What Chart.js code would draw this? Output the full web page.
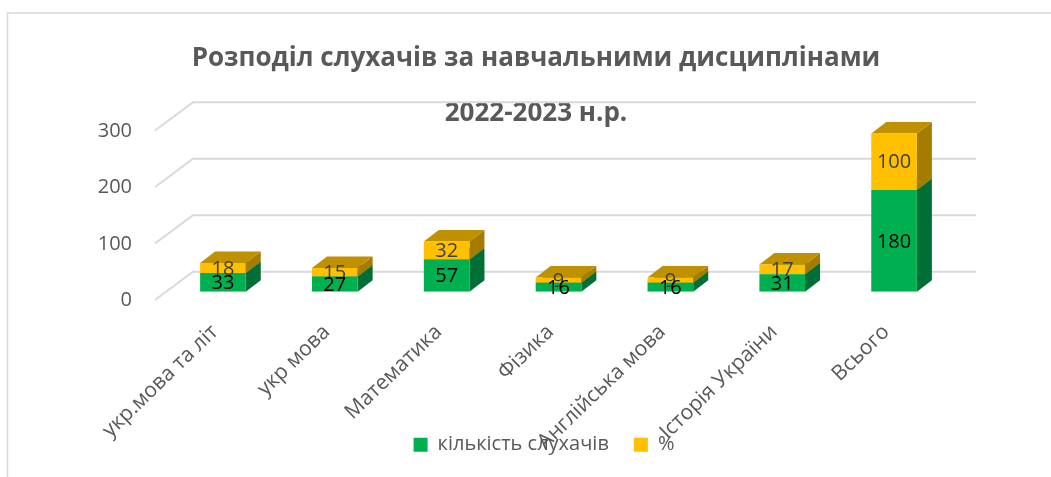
<!DOCTYPE html>
<html>
<head>
<meta charset="utf-8">
<style>
  html, body { margin: 0; padding: 0; background: #fff; }
  #wrap { width: 1051px; height: 477px; }
</style>
<script src="https://cdn.jsdelivr.net/npm/chart.js@4"></script>
</head>
<body>
<div id="wrap"><canvas id="myChart" width="1051" height="477"></canvas></div>
<script>
// data
var categories = ["укр.мова та літ", "укр мова", "Математика", "Фізика", "Англійська мова", "Історія України", "Всього"];
var listeners = [33, 27, 57, 16, 16, 31, 180];
var percents = [18, 15, 32, 9, 9, 17, 100];
var titleLines = ["Розподіл слухачів за навчальними дисциплінами", "2022-2023 н.р."];
var yTicks = [0, 100, 200, 300];

var fontName = "'Open Sans', sans-serif";

// 3d look of the excel chart: walls, bar sides and tops
var depth3d = {
  id: "depth3d",
  afterLayout: function(chart) {
    // tick labels get clipped to their scale box, and these ones overflow it on purpose
    chart.scales.y.left = 0;
    chart.scales.x.bottom = chart.height;
    chart.legend.left += 8;
    chart.legend.right += 8;
  },
  beforeDraw: function(chart) {
    var c = chart.ctx;
    c.save();
    c.strokeStyle = "#D9D9D9";
    c.lineWidth = 1.5;
    c.beginPath();
    c.moveTo(1051, 13);
    c.lineTo(7.5, 13);
    c.lineTo(7.5, 477);
    c.stroke();
    c.restore();
  },
  beforeDatasetsDraw: function(chart) {
    var c = chart.ctx;
    var x = chart.scales.x;
    var y = chart.scales.y;
    c.save();
    c.strokeStyle = "#D9D9D9";
    c.lineWidth = 2;
    yTicks.forEach(function(t) {
      var py = y.getPixelForValue(t);
      c.beginPath();
      c.moveTo(x.left - 12, py + 8.3);
      c.lineTo(x.left + 26, py - 20);
      c.lineTo(x.right + 26, py - 20);
      c.stroke();
    });

    var dx = 15, dy = -11.5;
    var sides = ["#006F37", "#A67C00"];
    var tops = ["#00843D", "#BF9000"];
    chart.data.datasets.forEach(function(ds, d) {
      chart.getDatasetMeta(d).data.forEach(function(bar) {
        var l = bar.x - bar.width / 2;
        var r = bar.x + bar.width / 2;
        c.fillStyle = sides[d];
        c.beginPath();
        c.moveTo(r, bar.base);
        c.lineTo(r + dx, bar.base + dy);
        c.lineTo(r + dx, bar.y + dy);
        c.lineTo(r, bar.y);
        c.closePath();
        c.fill();
        c.fillStyle = tops[d];
        c.beginPath();
        c.moveTo(l, bar.y);
        c.lineTo(l + dx, bar.y + dy);
        c.lineTo(r + dx, bar.y + dy);
        c.lineTo(r, bar.y);
        c.closePath();
        c.fill();
      });
    });
    c.restore();
  },
  afterDatasetsDraw: function(chart) {
    var c = chart.ctx;
    var colors = ["#000000", "#404040"];
    c.save();
    c.font = "20px " + fontName;
    c.textAlign = "center";
    c.textBaseline = "middle";
    // yellow labels first, the black ones sit over them
    for (var d = chart.data.datasets.length - 1; d >= 0; d--) {
      var values = chart.data.datasets[d].data;
      c.fillStyle = colors[d];
      chart.getDatasetMeta(d).data.forEach(function(bar, i) {
        c.fillText(values[i], bar.x, (bar.y + bar.base) / 2 + 1);
      });
    }
    c.restore();
  }
};

var myChart = new Chart(document.getElementById("myChart").getContext("2d"), {
  type: "bar",
  plugins: [depth3d],
  data: {
    labels: categories,
    datasets: [
      { label: "кількість слухачів", data: listeners, backgroundColor: "#00B050" },
      { label: "%", data: percents, backgroundColor: "#FFC000" }
    ]
  },
  options: {
    responsive: false,
    animation: false,
    layout: { padding: { left: 122, right: 101, top: 0, bottom: 12.3 } },
    datasets: { bar: { categoryPercentage: 1, barPercentage: 0.408 } },
    plugins: {
      tooltip: { enabled: false },
      title: {
        display: true,
        text: titleLines,
        color: "#595959",
        font: { family: fontName, size: 26, weight: "bold", lineHeight: 2.12 },
        padding: { top: 31, bottom: -19 }
      },
      legend: {
        position: "bottom",
        labels: { color: "#595959", font: { family: fontName, size: 20 }, boxWidth: 14, boxHeight: 14, padding: 25 }
      }
    },
    scales: {
      x: {
        stacked: true,
        grid: { display: false },
        border: { display: false },
        afterFit: function(scale) { scale.height = 118; },
        ticks: { color: "#595959", font: { family: fontName, size: 21 }, minRotation: 44, maxRotation: 44, padding: 20, labelOffset: -8 }
      },
      y: {
        stacked: true,
        min: 0,
        max: 300,
        grid: { display: false },
        border: { display: false },
        afterFit: function(scale) { scale.width = 45; },
        ticks: { color: "#595959", font: { family: fontName, size: 20 }, stepSize: 100, padding: 27, labelOffset: 9 }
      }
    }
  }
});
</script>
</body>
</html>
